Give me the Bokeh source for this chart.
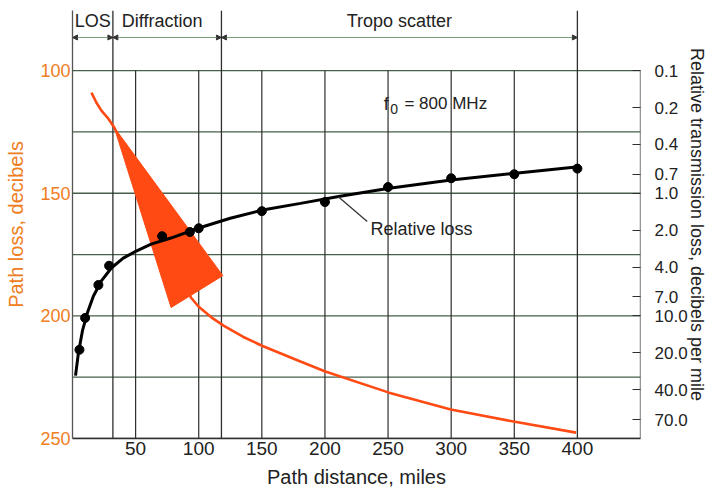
import numpy as np
from bokeh.plotting import figure
from bokeh.models import (Range1d, LogScale, LogAxis, FixedTicker, CustomJSTickFormatter,
                          ColumnDataSource, Arrow, NormalHead)
from bokeh.core.properties import value
from bokeh.embed import file_html
from bokeh.resources import INLINE

# ---------------- data ----------------
zone_names = ["LOS", "Diffraction", "Tropo scatter"]
zone_bounds = [0, 32, 118, 400]          # miles
zone_label_x = [16, 71, 259]             # miles

x_ticks = [50, 100, 150, 200, 250, 300, 350, 400]
x_grid = [50, 100, 150, 200, 250, 300, 350]
y_grid = [100, 125, 150, 175, 200, 225, 250]
path_loss_ticks = [100, 150, 200, 250]
rel_ticks = [0.1, 0.2, 0.4, 0.7, 1.0, 2.0, 4.0, 7.0, 10.0, 20.0, 40.0, 70.0]

# relative loss (dB per mile), right log axis
rel_pts_mi = [5.5, 10, 20.5, 29, 71, 93, 100, 150, 200, 250, 300, 350, 400]
rel_pts_val = [18.9, 10.4, 5.6, 3.9, 2.24, 2.07, 1.93, 1.40, 1.18, 0.89, 0.755, 0.70, 0.63]
rel_curve_mi = [2.4, 4.7, 7.9, 11.8, 16.6, 22.9, 30.8, 40.2, 50.5, 62.3, 78, 99.4,
                125, 150.6, 180.6, 212, 251, 300, 349, 399]
rel_curve_val = [30.7, 20.0, 13.2, 9.45, 6.88, 5.19, 4.07, 3.38, 2.96, 2.60, 2.32, 1.93,
                 1.60, 1.37, 1.21, 1.06, 0.91, 0.78, 0.69, 0.61]

# path loss (dB), left axis
loss_mi = [15, 18.9, 22.9, 28.4, 33.1, 62.3, 93.8, 100, 110, 120, 135, 150.6,
           180.6, 200.3, 250.8, 299.7, 349.4, 399]
loss_db = [109.0, 113.0, 116.3, 119.6, 123.2, 152.6, 192.5, 196.3, 200.6, 204.1, 208.5,
           212.3, 218.6, 222.7, 231.3, 238.2, 243.1, 247.6]

# diffraction spread (wedge)
spread_mi = [33.1, 78.1, 119.1]
spread_db = [123.2, 196.6, 183.6]

freq_parts = ["f", "0", "= 800  MHz"]
curve_label = "Relative loss"

# ---------------- styling ----------------
FONT = "Liberation Sans"
ORANGE_TXT = "#ef7d22"
RED = "#ff4a14"
GRID_H = "#46604c"
GRID_V = "#2e2e2e"
TXT = "#222222"
DB_TOP = 75.5

p = figure(width=720, height=500, x_range=Range1d(0, 450), y_range=Range1d(250, DB_TOP),
           output_backend="svg", toolbar_location=None,
           min_border_left=72, min_border_right=80, min_border_top=10, min_border_bottom=62,
           outline_line_color=None, background_fill_color="white")
p.xgrid.visible = False
p.ygrid.visible = False

# grid
p.segment(x0=[0] * len(y_grid), x1=[450] * len(y_grid), y0=y_grid, y1=y_grid,
          line_color=GRID_H, line_width=1.3)
p.segment(x0=x_grid, x1=x_grid, y0=[100] * len(x_grid), y1=[250] * len(x_grid),
          line_color=GRID_V, line_width=1.2)
# zone boundaries extend above chart
p.segment(x0=zone_bounds[1:], x1=zone_bounds[1:], y0=[DB_TOP] * 3, y1=[250] * 3,
          line_color=GRID_V, line_width=1.3)
# right frame line
p.segment(x0=[450], x1=[450], y0=[100], y1=[250], line_color=GRID_V, line_width=1.3)

# zone arrows
arr_y = 86.5
src = ColumnDataSource(dict(x0=zone_bounds[:-1], x1=zone_bounds[1:],
                            y0=[arr_y] * 3, y1=[arr_y] * 3))
p.add_layout(Arrow(x_start="x0", y_start="y0", x_end="x1", y_end="y1", source=src,
                   line_color="#7aa07a", line_width=1.2,
                   start=NormalHead(size=5, fill_color="#333333", line_color="#333333"),
                   end=NormalHead(size=5, fill_color="#333333", line_color="#333333")))
p.text(x=zone_label_x, y=[79.8] * 3, text=zone_names, text_font=value(FONT),
       text_font_size="18px", text_align="center", text_baseline="middle",
       text_color=TXT)

# path loss curve and wedge
p.line(loss_mi, loss_db, line_color=RED, line_width=2.6)
p.patch(spread_mi, spread_db, fill_color=RED, line_color=RED, line_width=1)

# relative loss (log axis)
p.extra_y_ranges = {"rel": Range1d(start=10 ** ((250 - 150) / 50), end=10 ** ((DB_TOP - 150) / 50))}
p.extra_y_scales = {"rel": LogScale()}
p.line(rel_curve_mi, rel_curve_val, y_range_name="rel", line_color="black", line_width=3)
p.scatter(rel_pts_mi, rel_pts_val, y_range_name="rel", size=9, fill_color="black",
          line_color="black")

# labels in chart
p.text(x=[246.5, 251.8, 263.0], y=[113.5, 115.8, 113.5], text=freq_parts,
       text_font=value(FONT), text_font_size=["18px", "14px", "17px"],
       text_align="left", text_baseline="middle", text_color=TXT)
p.segment(x0=[210.6], y0=[151.4], x1=[233.5], y1=[161.5], line_color="#333333", line_width=1.3)
p.text(x=[236.0], y=[164.4], text=[curve_label], text_font=value(FONT), text_font_size="18px",
       text_align="left", text_baseline="middle", text_color=TXT)

# axes
xa = p.xaxis[0]
xa.ticker = FixedTicker(ticks=x_ticks)
xa.axis_label = "Path distance, miles"
xa.major_tick_line_color = None
xa.major_tick_out = 0
xa.major_tick_in = 0
xa.minor_tick_line_color = None
xa.axis_line_color = GRID_V
xa.axis_line_width = 1.3
xa.major_label_text_font = FONT
xa.major_label_text_font_size = "19px"
xa.major_label_text_color = TXT
xa.major_label_standoff = 3
xa.axis_label_text_font = FONT
xa.axis_label_text_font_size = "20px"
xa.axis_label_text_font_style = "normal"
xa.axis_label_text_color = TXT
xa.axis_label_standoff = 8

ya = p.yaxis[0]
ya.ticker = FixedTicker(ticks=path_loss_ticks)
ya.axis_label = "Path loss, decibels"
ya.major_tick_line_color = None
ya.major_tick_out = 0
ya.major_tick_in = 0
ya.minor_tick_line_color = None
ya.axis_line_color = "#555555"
ya.axis_line_width = 1.3
ya.major_label_text_font = FONT
ya.major_label_text_font_size = "18px"
ya.major_label_text_color = ORANGE_TXT
ya.major_label_standoff = 2
ya.axis_label_text_font = FONT
ya.axis_label_text_font_size = "20px"
ya.axis_label_text_font_style = "normal"
ya.axis_label_text_color = ORANGE_TXT
ya.axis_label_standoff = 10

ra = LogAxis(y_range_name="rel", ticker=FixedTicker(ticks=rel_ticks),
             formatter=CustomJSTickFormatter(code="return tick.toFixed(1);"),
             axis_label="Relative transmission loss, decibels per mile")
ra.axis_line_color = None
ra.major_tick_in = 8
ra.major_tick_out = 0
ra.major_tick_line_color = GRID_V
ra.minor_tick_line_color = None
ra.major_label_text_font = FONT
ra.major_label_text_font_size = "17px"
ra.major_label_text_color = TXT
ra.major_label_standoff = 14
ra.axis_label_text_font = FONT
ra.axis_label_text_font_size = "18px"
ra.axis_label_text_font_style = "normal"
ra.axis_label_text_color = TXT
ra.axis_label_standoff = -4
p.add_layout(ra, "right")

open("out.html", "w").write(file_html(p, INLINE))
